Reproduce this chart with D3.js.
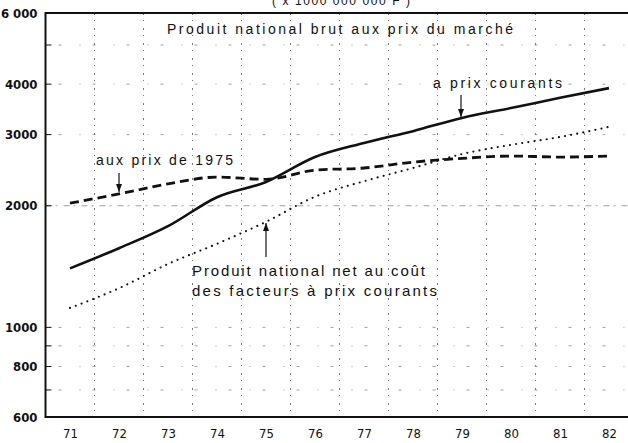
<!DOCTYPE html>
<html>
<head>
<meta charset="utf-8">
<script src="https://cdn.jsdelivr.net/npm/d3@7"></script>
<style>
  body { margin: 0; background: #fff; }
  svg { display: block; }
  .ann { font-family: 'Liberation Sans', Arial, sans-serif; fill: #111; }
  .tick text { font-family: 'DejaVu Sans Condensed', 'Liberation Sans Narrow', sans-serif; fill: #111; }
</style>
</head>
<body>
<svg id="chart" width="628" height="443"></svg>
<script>
const years = [71, 72, 73, 74, 75, 76, 77, 78, 79, 80, 81, 82];
// milliards de F
const courants = [1400, 1570, 1780, 2100, 2290, 2640, 2860, 3060, 3300, 3490, 3700, 3910];
const prix1975 = [2030, 2140, 2265, 2355, 2325, 2450, 2480, 2565, 2620, 2655, 2640, 2655];
const netFacteurs = [1117, 1250, 1435, 1610, 1825, 2105, 2300, 2480, 2685, 2830, 2960, 3135];

const yTicks = [6000, 4000, 3000, 2000, 1000, 800, 600];
const yTickLabels = ['6 000', '4000', '3000', '2000', '1000', '800', '600'];
const yGrid = [5000, 4000, 3000, 2000, 1000, 900, 800, 700];

const svg = d3.select('#chart');

const x = d3.scaleLinear().domain([70.5, 82.5]).range([45.5, 633.5]);
const y = d3.scaleLog().domain([600, 6000]).range([417, 13]);

// grid
const grid = svg.append('g').attr('id', 'grid');
grid.selectAll('line.v')
  .data(d3.range(71.5, 82, 1))
  .join('line')
  .attr('class', 'v')
  .attr('x1', (d) => x(d)).attr('x2', (d) => x(d))
  .attr('y1', y(6000)).attr('y2', y(600))
  .attr('stroke', '#555')
  .attr('stroke-width', 0.8)
  .attr('stroke-dasharray', '2,5,1,7');

grid.selectAll('line.h')
  .data(yGrid)
  .join('line')
  .attr('class', 'h')
  .attr('x1', x(70.5)).attr('x2', 628)
  .attr('y1', (d) => y(d)).attr('y2', (d) => y(d))
  .attr('stroke', '#888')
  .attr('stroke-width', 0.8)
  .attr('stroke-dasharray', (d) => (d === 2000 ? '6,4,2,6' : '1,12,3,18'));

// frame
svg.append('line')
  .attr('x1', x(70.5)).attr('x2', 628)
  .attr('y1', y(6000)).attr('y2', y(6000))
  .attr('stroke', '#111').attr('stroke-width', 2);
svg.append('line')
  .attr('x1', x(70.5)).attr('x2', 628)
  .attr('y1', y(600)).attr('y2', y(600))
  .attr('stroke', '#111').attr('stroke-width', 2);
svg.append('line')
  .attr('x1', x(70.5)).attr('x2', x(70.5))
  .attr('y1', y(6000) - 1).attr('y2', y(600) + 1)
  .attr('stroke', '#111').attr('stroke-width', 2);

// small ticks on y axis
svg.append('g')
  .selectAll('line')
  .data([5000, 4000, 3000, 2000, 1000, 900, 800, 700])
  .join('line')
  .attr('x1', x(70.5)).attr('x2', x(70.5) + 6)
  .attr('y1', (d) => y(d)).attr('y2', (d) => y(d))
  .attr('stroke', '#111').attr('stroke-width', 1);

// axes (labels only)
const yAxis = svg.append('g')
  .attr('transform', `translate(${x(70.5) - 8},0)`)
  .call(d3.axisLeft(y).tickValues(yTicks).tickSize(0)
    .tickFormat((d, i) => yTickLabels[i]));
yAxis.select('.domain').remove();
yAxis.selectAll('text').style('font-size', '13px').style('font-weight', 'bold').attr('x', 0);

const xAxis = svg.append('g')
  .attr('transform', `translate(0,${y(600) + 8})`)
  .call(d3.axisBottom(x).tickValues(years).tickSize(0));
xAxis.select('.domain').remove();
xAxis.selectAll('text').style('font-size', '13px').attr('dy', '0.75em');

// series
const line = d3.line().x((d, i) => x(years[i])).y((d) => y(d)).curve(d3.curveMonotoneX);

svg.append('path').datum(courants)
  .attr('d', line).attr('fill', 'none')
  .attr('stroke', '#111').attr('stroke-width', 2.6);

svg.append('path').datum(prix1975)
  .attr('d', line).attr('fill', 'none')
  .attr('stroke', '#111').attr('stroke-width', 2.8)
  .attr('stroke-dasharray', '9,5');

svg.append('path').datum(netFacteurs)
  .attr('d', line).attr('fill', 'none')
  .attr('stroke', '#111').attr('stroke-width', 2.2)
  .attr('stroke-linecap', 'round')
  .attr('stroke-dasharray', '0,6.2');

// annotations
const ann = svg.append('g');
const addText = (txt, x0, yb, len, size) => {
  ann.append('text').attr('class', 'ann')
    .attr('x', x0).attr('y', yb)
    .attr('textLength', len).attr('lengthAdjust', 'spacing')
    .style('font-size', size + 'px')
    .text(txt);
};
addText('( x 1000 000 000 F )', 272, 5, 138, 12);
addText('Produit national brut aux prix du marché', 167, 34, 346, 14);
addText('a prix courants', 433, 88, 129, 14);
addText('aux prix de 1975', 96, 165, 137, 14);
addText('Produit national net au coût', 192, 276, 233, 15);
addText('des facteurs à prix courants', 192, 296, 245, 15);

const arrow = (x0, y0, y1) => {
  ann.append('line')
    .attr('x1', x0).attr('x2', x0).attr('y1', y0).attr('y2', y1)
    .attr('stroke', '#111').attr('stroke-width', 1.2);
  const dir = y1 > y0 ? 1 : -1;
  ann.append('path')
    .attr('d', `M${x0 - 3},${y1 - dir * 8}L${x0 + 3},${y1 - dir * 8}L${x0},${y1}Z`)
    .attr('fill', '#111');
};
arrow(461, 95, 117);
arrow(119, 173, 192);
arrow(266, 257, 223);
</script>
</body>
</html>
